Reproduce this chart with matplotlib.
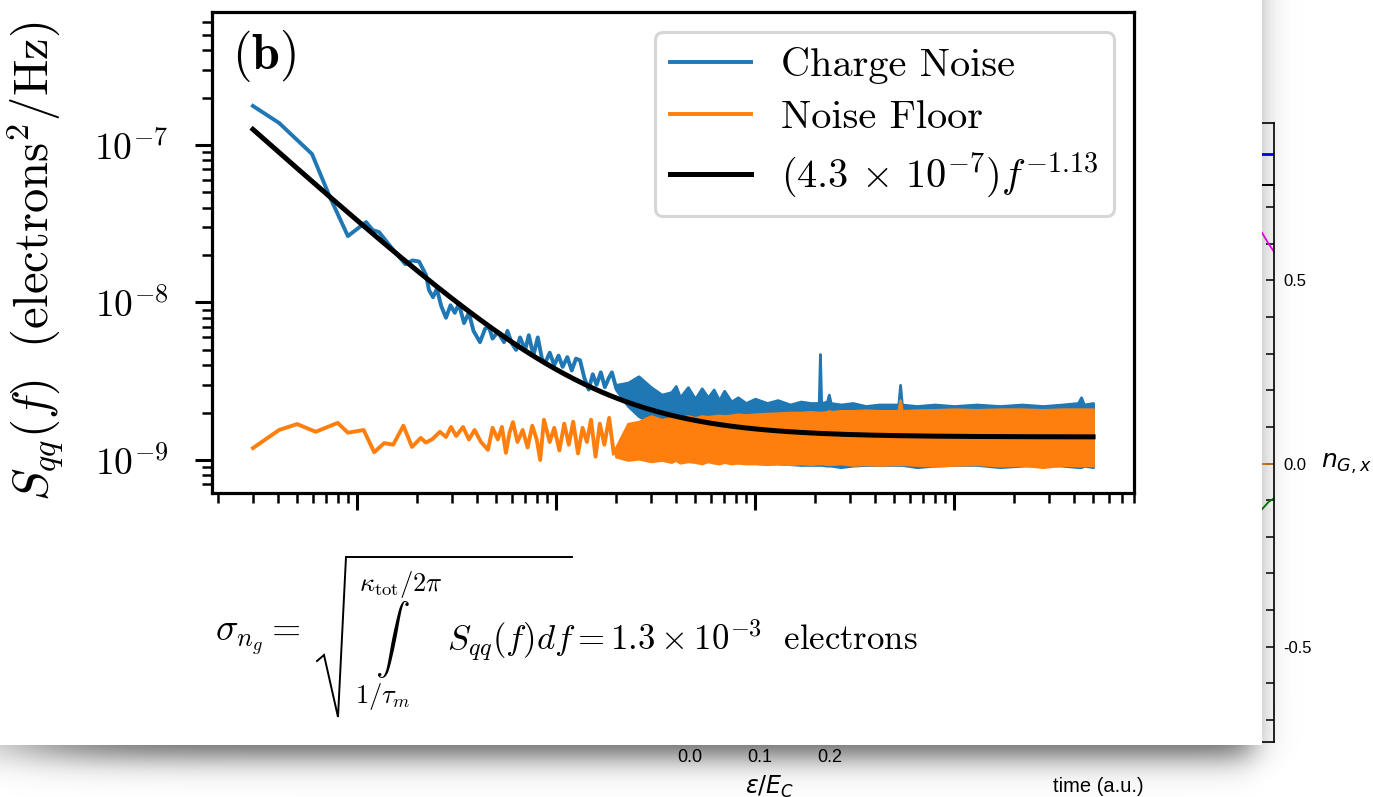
import numpy as np
import matplotlib
matplotlib.use("Agg")
import matplotlib.pyplot as plt
from matplotlib.patches import Rectangle
from matplotlib.ticker import (LogLocator, NullFormatter, FuncFormatter,
                               FixedLocator, FixedFormatter, MultipleLocator)

# ---------------------------------------------------------------- data
# Charge-noise spectrum, low-frequency part (Hz, electrons^2/Hz x 1e-9)
freq_charge = [3.0, 4.06, 5.94, 7.31, 9.0, 11.1, 12.0, 12.9, 15.2, 17.5,
               19.0, 20.5, 22.2, 23.0, 24.1, 25.2, 26.5, 28.0, 29.5, 31.0,
               32.5, 34.5, 36.5, 38.5, 41.5, 44.0, 46.0, 48.0, 51.0, 54.8,
               57.0, 60.0, 63.0, 66.0, 70.0, 73.0, 77.0, 81.0, 85.0, 88.0,
               93.0, 98.0, 103.0, 108.0, 114.0, 120.0, 126.0, 132.0, 139.0, 146.0,
               153.0, 160.0, 168.0, 176.0, 184.0, 191.0, 200.0]
psd_charge = [177, 138, 87.7, 46.7, 26.4, 32.4, 28.8, 28.0, 21.6, 17.5,
              18.5, 18.2, 15.0, 12.0, 10.8, 12.2, 9.5, 8.0, 9.6, 8.6,
              9.8, 7.4, 8.6, 6.6, 5.6, 6.8, 7.0, 5.9, 6.5, 5.6,
              6.6, 5.5, 5.0, 6.0, 5.0, 6.2, 4.6, 6.0, 4.4, 4.1,
              4.8, 4.0, 4.6, 3.9, 4.5, 3.7, 4.4, 4.3, 3.3, 2.8,
              3.5, 3.0, 3.6, 2.9, 3.3, 3.6, 2.9]

# Noise-floor spectrum, low-frequency part
freq_floor = [3.0, 4.06, 5.0, 6.2, 8.0, 9.0, 10.8, 12.2, 13.7, 15.2,
              17.1, 18.9, 20.9, 22.2, 24.0, 26.1, 28.0, 29.7, 31.5, 34.1,
              36.5, 39.0, 42.0, 45.5, 48.0, 51.0, 53.5, 56.0, 58.5, 60.8,
              64.0, 68.0, 72.0, 76.0, 80.0, 83.3, 87.0, 93.0, 98.0, 104.0,
              110.0, 116.0, 122.0, 129.0, 136.0, 143.0, 150.0, 158.0, 166.0, 175.0,
              185.0, 195.0]
psd_floor = [1.19, 1.55, 1.69, 1.51, 1.72, 1.49, 1.55, 1.12, 1.28, 1.25,
             1.65, 1.21, 1.38, 1.29, 1.36, 1.51, 1.40, 1.62, 1.42, 1.62,
             1.35, 1.55, 1.30, 1.16, 1.60, 1.35, 1.62, 1.11, 1.50, 1.74,
             1.30, 1.55, 1.20, 1.65, 1.35, 1.00, 1.80, 1.30, 1.60, 1.15,
             1.70, 1.25, 1.75, 1.10, 1.60, 1.30, 1.80, 1.05, 1.70, 1.25,
             1.85, 1.10]

# High-frequency part: densely sampled, given as lower / upper envelopes
band_freq = [200, 230, 260, 300, 340, 380, 400, 420, 460, 500,
             540, 580, 620, 660, 700, 760, 820, 900, 1000, 1150,
             1300, 1500, 1700, 1900, 2090, 2120, 2150, 2300, 2350, 2400,
             2700, 3100, 3600, 4200, 5250, 5360, 5470, 6500, 8000, 10000,
             13000, 17000, 22000, 28000, 35000, 42000, 43500, 45000, 50000]
charge_hi = [3.0, 3.1, 3.4, 2.9, 2.6, 2.7, 2.95, 2.5, 2.9, 2.45,
             2.85, 2.5, 2.8, 2.4, 2.75, 2.35, 2.5, 2.3, 2.45, 2.3,
             2.4, 2.25, 2.35, 2.3, 2.3, 4.7, 2.3, 2.35, 2.6, 2.3,
             2.25, 2.3, 2.2, 2.25, 2.25, 3.0, 2.25, 2.2, 2.25, 2.2,
             2.25, 2.2, 2.25, 2.2, 2.25, 2.3, 2.5, 2.25, 2.3]
charge_lo = [2.8, 2.2, 1.9, 1.7, 1.55, 1.45, 1.4, 1.35, 1.3, 1.25,
             1.2, 1.15, 1.12, 1.1, 1.05, 1.02, 1.0, 0.98, 0.96, 0.95,
             0.95, 0.94, 0.93, 0.93, 0.93, 0.93, 0.93, 0.92, 0.92, 0.92,
             0.9, 0.92, 0.93, 0.93, 0.93, 0.93, 0.93, 0.9, 0.92, 0.93,
             0.93, 0.9, 0.92, 0.93, 0.92, 0.9, 0.9, 0.92, 0.9]
floor_hi = [1.2, 1.7, 1.75, 1.9, 1.8, 1.85, 1.9, 1.85, 1.9, 1.85,
            1.9, 1.88, 1.9, 1.92, 1.9, 1.92, 1.95, 1.93, 1.95, 1.97,
            1.98, 2.0, 2.0, 2.02, 2.0, 2.0, 2.0, 2.02, 2.05, 2.02,
            2.05, 2.05, 2.07, 2.05, 2.05, 2.4, 2.05, 2.07, 2.08, 2.1,
            2.08, 2.1, 2.1, 2.08, 2.1, 2.1, 2.1, 2.1, 2.1]
floor_lo = [1.05, 1.0, 1.02, 0.98, 1.0, 0.97, 1.0, 0.96, 0.98, 0.97,
            0.95, 0.98, 0.96, 0.95, 0.97, 0.95, 0.96, 0.95, 0.95, 0.94,
            0.95, 0.94, 0.95, 0.94, 0.95, 0.95, 0.95, 0.94, 0.94, 0.94,
            0.95, 0.93, 0.94, 0.93, 0.94, 0.94, 0.94, 0.93, 0.92, 0.93,
            0.94, 0.92, 0.93, 0.9, 0.93, 0.92, 0.92, 0.93, 0.92]
PSD_UNIT = 1e-9

# Power-law fit parameters
fit_amp = 4.3e-7
fit_exp = -1.13
fit_floor = 1.4e-9
fit_range = (3.0, 50000.0)

# Background panel (partly hidden) values
eps_ticks = [0.0, 0.1, 0.2]
eps_ticklabels = ["0.0", "0.1", "0.2"]
ng_ticks = [-0.5, 0.0, 0.5]
ng_ticklabels = ["-0.5", "0.0", "0.5"]
t_tail = [0.90, 0.956, 0.98, 1.0]
ng_magenta = [0.68, 0.63, 0.60, 0.578]
ng_green = [-0.16, -0.125, -0.105, -0.095]
ng_orange = [0.0, 0.0, 0.0, 0.0]
top_blue = [0.5, 0.5, 0.5, 0.5]

# ---------------------------------------------------------------- style
W, H, DPI = 1373, 797, 100
plt.rcParams["mathtext.fontset"] = "cm"
plt.rcParams["font.family"] = "cmr10"
plt.rcParams["axes.formatter.use_mathtext"] = True
BLUE, ORANGE = "#1f77b4", "#ff7f0e"
SANS = "Liberation Sans"

fig = plt.figure(figsize=(W / DPI, H / DPI), dpi=DPI)
fig.patch.set_facecolor("white")


def px_box(x0, y0, x1, y1):
    """Pixel box (origin top-left) -> figure-fraction rectangle."""
    return [x0 / W, 1 - y1 / H, (x1 - x0) / W, (y1 - y0) / H]


# ------------------------------------------------- background figure
ax_top = fig.add_axes(px_box(1000, 123, 1274, 185), zorder=0)
ax_top.set_facecolor("none")
ax_top.set_xlim(0, 1)
ax_top.set_ylim(0, 1)
ax_top.plot(t_tail, top_blue, color="blue", lw=2)
ax_top.set_xticks([])
ax_top.set_yticks([])
for s in ax_top.spines.values():
    s.set_linewidth(1.2)

ax_t = fig.add_axes(px_box(1000, 185, 1274, 742), zorder=0)
ax_t.set_facecolor("none")
ax_t.set_xlim(0, 1)
ax_t.set_ylim(-0.76, 0.76)
ax_t.plot(t_tail, ng_magenta, color="magenta", lw=1.3)
ax_t.plot(t_tail, ng_orange, color="#e07b1a", lw=1.3)
ax_t.plot(t_tail, ng_green, color="green", lw=1.3)
ax_t.yaxis.tick_right()
ax_t.yaxis.set_major_locator(FixedLocator(ng_ticks))
ax_t.yaxis.set_major_formatter(FixedFormatter(ng_ticklabels))
ax_t.yaxis.set_minor_locator(MultipleLocator(0.1))
ax_t.tick_params(axis="y", which="both", direction="in", length=6, width=1.1,
                 labelsize=12, pad=6.5)
for lbl in ax_t.get_yticklabels():
    lbl.set_family(SANS)
ax_t.set_xticks([])
ax_t.set_xlabel("time (a.u.)", fontsize=14.5, family=SANS)
ax_t.xaxis.set_label_coords(0.358, -0.062)
ax_t.yaxis.set_label_position("right")
ax_t.set_ylabel(r"$n_{G,x}$", rotation=0, fontsize=18, math_fontfamily="dejavusans",
                ha="left", va="center")
ax_t.yaxis.set_label_coords(1.17, 0.5)
for s in ax_t.spines.values():
    s.set_linewidth(1.2)

ax_e = fig.add_axes(px_box(640, 600, 900, 742), zorder=0)
ax_e.set_facecolor("none")
ax_e.set_xlim(-0.0714, 0.3)
ax_e.set_xticks(eps_ticks)
ax_e.set_xticklabels(eps_ticklabels, family=SANS, fontsize=13)
ax_e.set_yticks([])
ax_e.tick_params(axis="x", length=0, pad=5)
ax_e.set_xlabel(r"$\varepsilon/E_C$", fontsize=17, math_fontfamily="dejavusans",
                labelpad=6)
for s in ax_e.spines.values():
    s.set_visible(False)

# ------------------------------------------------- sheet with drop shadow
ax_over = fig.add_axes([0, 0, 1, 1], zorder=5)
ax_over.set_xlim(0, W)
ax_over.set_ylim(H, 0)
ax_over.axis("off")

yy, xx = np.mgrid[0:H, 0:W] + 0.5


def soft(z):
    return 1.0 / (1.0 + np.exp(-z))


shade = 0.62 * soft((1252 - xx) / 10) * soft((xx - 20) / 40) * soft((757 - yy) / 9)
rgba = np.zeros((H, W, 4))
rgba[..., 3] = shade
ax_over.imshow(rgba, extent=(0, W, H, 0), interpolation="bilinear",
               aspect="auto", zorder=1)
ax_over.add_patch(Rectangle((0, 0), 1262, 745, facecolor="white",
                            edgecolor="none", zorder=2))

# formula under the plot
ax_over.text(215, 640, r"$\sigma_{n_g} =$", fontsize=27, ha="left", va="center", zorder=3)
ax_over.plot([317, 324, 338, 346, 572], [661, 655, 717, 557, 557], color="black",
             lw=1.4, solid_joinstyle="miter", zorder=3)
ax_over.text(359, 584, r"$\kappa_{\rm tot}/2\pi$", fontsize=19, ha="left",
             va="center", zorder=3)
ax_over.text(392, 640, r"$\int$", fontsize=25, ha="center", va="center", zorder=3)
ax_over.text(355, 696, r"$1/\tau_m$", fontsize=19, ha="left", va="center", zorder=3)
ax_over.text(447, 640, r"$S_{qq}(f)df = 1.3\times10^{-3}\ \ \mathrm{electrons}$",
             fontsize=25, ha="left", va="center", zorder=3)

# ------------------------------------------------- main spectrum plot
ax = fig.add_axes(px_box(212, 12, 1134, 493), zorder=10)
ax.set_facecolor("none")
ax.set_xscale("log")
ax.set_yscale("log")

ax.plot(freq_charge, np.array(psd_charge) * PSD_UNIT, color=BLUE, lw=2.8,
        label="Charge Noise")
ax.fill_between(band_freq, np.array(charge_lo) * PSD_UNIT, np.array(charge_hi) * PSD_UNIT,
                facecolor=BLUE, edgecolor=BLUE, lw=2.0)
ax.plot(freq_floor, np.array(psd_floor) * PSD_UNIT, color=ORANGE, lw=2.8,
        label="Noise Floor")
ax.fill_between(band_freq, np.array(floor_lo) * PSD_UNIT, np.array(floor_hi) * PSD_UNIT,
                facecolor=ORANGE, edgecolor=ORANGE, lw=2.0)

f_fit = np.geomspace(*fit_range, 500)
ax.plot(f_fit, fit_amp * f_fit ** fit_exp + fit_floor, color="black", lw=3.6,
        label=r"$(4.3\,\times\,10^{-7})f^{-1.13}$")

ax.set_xlim(1.868, 80270)
ax.set_ylim(6.17e-10, 6.99e-7)

ax.xaxis.set_major_locator(LogLocator(base=10, numticks=20))
ax.xaxis.set_minor_locator(LogLocator(base=10, subs=np.arange(2, 10), numticks=20))
ax.xaxis.set_major_formatter(NullFormatter())
ax.xaxis.set_minor_formatter(NullFormatter())
ax.yaxis.set_major_locator(LogLocator(base=10, numticks=20))
ax.yaxis.set_minor_locator(LogLocator(base=10, subs=np.arange(2, 10), numticks=20))
ax.yaxis.set_major_formatter(FuncFormatter(
    lambda v, p: r"$10^{%d}$" % int(round(np.log10(v)))))
ax.yaxis.set_minor_formatter(NullFormatter())
ax.tick_params(which="major", length=12.5, width=2.2, direction="out")
ax.tick_params(which="minor", length=7, width=1.8, direction="out")
ax.tick_params(axis="y", labelsize=27, pad=19)
for s in ax.spines.values():
    s.set_linewidth(2.3)

ax.set_ylabel(r"$S_{qq}(f)\ \ \mathrm{(electrons^2/Hz)}$", fontsize=35)
ax.yaxis.set_label_coords(-0.158, 0.481)

ax.text(0.0217, 0.966, r"$\mathbf{(b)}$", transform=ax.transAxes, fontsize=36,
        ha="left", va="top")

leg = ax.legend(loc="upper right", prop={"family": "cmr10", "size": 29},
                fancybox=True, framealpha=0.8, edgecolor="0.8",
                labelspacing=0.38, borderpad=0.38, handlelength=2.0,
                handletextpad=0.75)
leg.get_frame().set_linewidth(2.2)

fig.savefig("out.png", dpi=DPI)
